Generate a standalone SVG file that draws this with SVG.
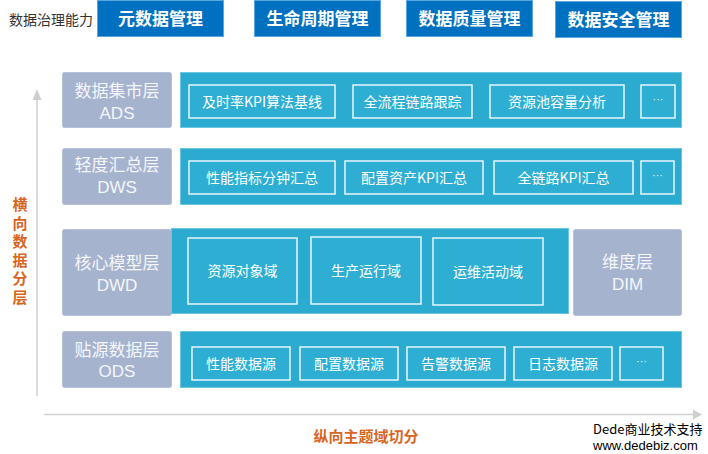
<svg xmlns="http://www.w3.org/2000/svg" width="708" height="454" viewBox="0 0 708 454">
<style>
text{font-family:"Noto Sans CJK SC","Liberation Sans",sans-serif}
.top{fill:#0070c0;stroke:#5aa6e0;stroke-width:1}
.topt{fill:#fff;font-size:17px;font-weight:bold;text-anchor:middle}
.lab{fill:#a6b3cf;stroke:#b6c1d8;stroke-width:1}
.labt{fill:#f4f6fa;font-size:17px;text-anchor:middle}
.labe{fill:#f4f6fa;font-size:17px;text-anchor:middle;font-family:"Liberation Sans",sans-serif}
.pan{fill:#2babcf;stroke:#6cc6e2;stroke-width:1}
.in{fill:#2eaed2;stroke:#e8f6fb;stroke-width:1.5}
.int{fill:#fff;font-size:14px;text-anchor:middle}
.dots{fill:#e8f6fb;font-size:11px;text-anchor:middle;font-family:"Liberation Sans",sans-serif}
.ax{stroke:#cfcfcf;stroke-width:1.5;fill:none}
.or{fill:#d8661f;font-size:15px;font-weight:bold;text-anchor:middle}
</style>
<rect width="708" height="454" fill="#fff"/>
<g id="header">
<text x="51" y="25" style="font-size:14px;fill:#333;text-anchor:middle">数据治理能力</text>
<rect class="top" x="97.5" y="0.5" width="126" height="36"/><text class="topt" x="160.5" y="25">元数据管理</text>
<rect class="top" x="254.5" y="0.5" width="126" height="36"/><text class="topt" x="317.5" y="25">生命周期管理</text>
<rect class="top" x="406.5" y="0.5" width="126" height="36"/><text class="topt" x="469.5" y="25">数据质量管理</text>
<rect class="top" x="555.5" y="1.5" width="126" height="36"/><text class="topt" x="618.5" y="26">数据安全管理</text>
</g>
<g id="connectors">
<line class="ax" x1="37" y1="98" x2="37" y2="396"/>
<polygon points="37,89 32.5,100 41.5,100" fill="#cfcfcf"/>
<line class="ax" x1="44" y1="414.5" x2="694" y2="414.5"/>
<polygon points="702,414.5 693,409.5 693,419.5" fill="#cfcfcf"/>
</g>
<g id="axis-labels">
<text class="or" x="20" y="197" writing-mode="tb" style="letter-spacing:3.5px;text-anchor:start">横向数据分层</text>
<text class="or" x="366" y="442">纵向主题域切分</text>
</g>
<g id="ads">
<rect class="lab" x="62.5" y="72.5" width="109" height="55" rx="2"/>
<text class="labt" x="117" y="97">数据集市层</text>
<text class="labe" x="117" y="119">ADS</text>
<rect class="pan" x="180.5" y="72.5" width="501" height="55"/>
<rect class="in" x="189" y="85" width="146" height="33"/><text class="int" x="262" y="106.5">及时率KPI算法基线</text>
<rect class="in" x="353" y="85" width="119" height="33"/><text class="int" x="412.5" y="106.5">全流程链路跟踪</text>
<rect class="in" x="490" y="85" width="134" height="33"/><text class="int" x="557" y="106.5">资源池容量分析</text>
<rect class="in" x="641" y="85" width="34" height="33"/><text class="dots" x="658" y="103">···</text>
</g>
<g id="dws">
<rect class="lab" x="62.5" y="148.5" width="109" height="56" rx="2"/>
<text class="labt" x="117" y="171">轻度汇总层</text>
<text class="labe" x="117" y="193">DWS</text>
<rect class="pan" x="180.5" y="148.5" width="501" height="56"/>
<rect class="in" x="189" y="161" width="146" height="33"/><text class="int" x="262" y="182.5">性能指标分钟汇总</text>
<rect class="in" x="345" y="161" width="138" height="33"/><text class="int" x="414" y="182.5">配置资产KPI汇总</text>
<rect class="in" x="494" y="161" width="139" height="33"/><text class="int" x="563.5" y="182.5">全链路KPI汇总</text>
<rect class="in" x="641" y="161" width="33" height="33"/><text class="dots" x="657.5" y="179">···</text>
</g>
<g id="dwd">
<rect class="lab" x="62.5" y="229.5" width="109" height="86" rx="2"/>
<text class="labt" x="117" y="269">核心模型层</text>
<text class="labe" x="117" y="291">DWD</text>
<rect class="pan" x="171.5" y="228.5" width="397" height="85"/>
<rect class="in" x="188" y="238" width="109" height="66"/><text class="int" x="242.5" y="276">资源对象域</text>
<rect class="in" x="311" y="237" width="110" height="67"/><text class="int" x="366" y="276">生产运行域</text>
<rect class="in" x="433" y="238" width="110" height="67"/><text class="int" x="488" y="277">运维活动域</text>
</g>
<g id="dim">
<rect class="lab" x="573.5" y="229.5" width="108" height="86" rx="2"/>
<text class="labt" x="627.5" y="268">维度层</text>
<text class="labe" x="627.5" y="290">DIM</text>
</g>
<g id="ods">
<rect class="lab" x="62.5" y="331.5" width="109" height="56" rx="2"/>
<text class="labt" x="117" y="356">贴源数据层</text>
<text class="labe" x="117" y="377">ODS</text>
<rect class="pan" x="180.5" y="331.5" width="501" height="56"/>
<rect class="in" x="192" y="347" width="98" height="33"/><text class="int" x="241" y="368.5">性能数据源</text>
<rect class="in" x="300" y="347" width="98" height="33"/><text class="int" x="349" y="368.5">配置数据源</text>
<rect class="in" x="407" y="347" width="98" height="33"/><text class="int" x="456" y="368.5">告警数据源</text>
<rect class="in" x="514" y="347" width="98" height="33"/><text class="int" x="563" y="368.5">日志数据源</text>
<rect class="in" x="620" y="347" width="43" height="33"/><text class="dots" x="641.5" y="365">···</text>
</g>
<g id="watermark">
<text x="593" y="434" style="font-size:13px;fill:#000">Dede商业技术支持</text>
<text x="593" y="450" style="font-size:13px;fill:#000;font-family:'Liberation Sans',sans-serif">www.dedebiz.com</text>
</g>
</svg>
